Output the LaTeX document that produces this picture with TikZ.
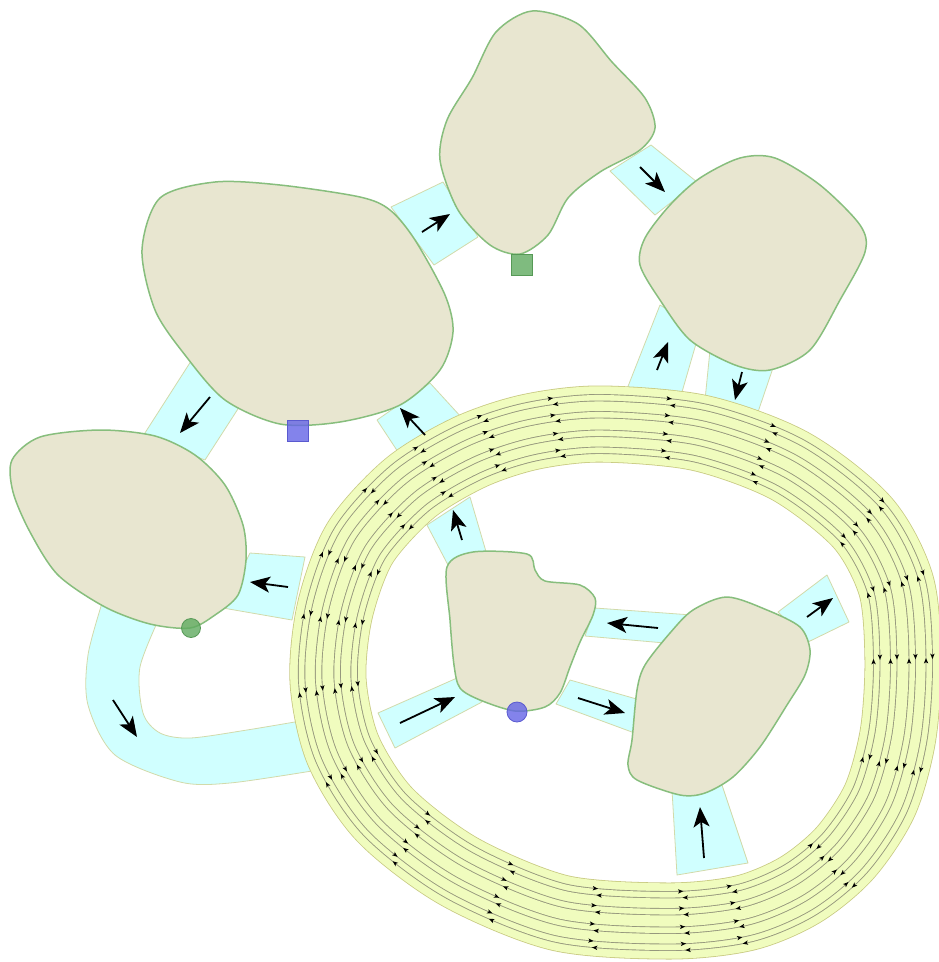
\documentclass[tikz,border=0pt]{standalone}
\usetikzlibrary{arrows.meta,decorations.markings}
\definecolor{blobfill}{RGB}{232,230,208}
\definecolor{blobline}{RGB}{135,190,125}
\definecolor{cyanfill}{RGB}{208,255,255}
\definecolor{cyanline}{RGB}{210,218,170}
\definecolor{ringfill}{RGB}{240,252,190}
\definecolor{ringline}{RGB}{200,202,130}
\definecolor{thread}{RGB}{150,152,125}
\definecolor{mgreen}{RGB}{95,170,95}
\definecolor{mblue}{RGB}{100,100,230}
\newcommand\myringpath{plot[smooth cycle] coordinates {(600,424) (700,433) (790,466) (862,522) (896,585) (903,660) (898,735) (880,800) (845,853) (800,890) (745,913) (670,921) (560,913) (460,872) (385,815) (343,750) (328,680) (335,610) (360,543) (410,488) (470,452) (530,432)}}
\newcommand\rtri[2]{\fill[black,shift={(0pt,#1)},xscale=#2] (2.8pt,0pt) -- (-2.6pt,2.2pt) -- (-1.3pt,0pt) -- (-2.6pt,-2.2pt) -- cycle;}
\newcommand\rgrp{\rtri{29.5pt}{1}\rtri{12.5pt}{1}\rtri{-6pt}{1}\rtri{-23pt}{1}%
  \begin{scope}[xshift=4.5pt]\rtri{23pt}{-1}\rtri{6pt}{-1}\rtri{-12.5pt}{-1}\rtri{-29.5pt}{-1}\end{scope}}
\newcommand\flowarrow[3]{\coordinate (#1t) at #2; \coordinate (#1h) at #3; \draw[flow] (#1t) -- (#1h);}
\begin{document}
\begin{tikzpicture}[x=1pt,y=-1pt,
  blob/.style={fill=blobfill,draw=blobline,line width=1.5pt},
  bridge/.style={fill=cyanfill,draw=cyanline,line width=0.8pt,line join=round},
  flow/.style={-{Stealth[length=20pt,width=16pt,inset=5pt]},line width=1.8pt,black},
  gsq/.style={rectangle,minimum size=21pt,inner sep=0pt,fill=mgreen,fill opacity=0.8,draw=mgreen!90!black,line width=0.8pt},
  bsq/.style={rectangle,minimum size=21pt,inner sep=0pt,fill=mblue,fill opacity=0.8,draw=mblue!90!black,line width=0.8pt},
  gdot/.style={circle,minimum size=19pt,inner sep=0pt,fill=mgreen,fill opacity=0.8,draw=mgreen!90!black,line width=0.8pt},
  bdot/.style={circle,minimum size=20pt,inner sep=0pt,fill=mblue,fill opacity=0.8,draw=mblue!90!black,line width=0.8pt}]
\useasboundingbox (0,0) rectangle (938,962);
% connectors
\draw[bridge] (391,207) -- (443,182) -- (478,237) -- (434,265) -- cycle;
\draw[bridge] (610,171) -- (651,145) -- (697,182) -- (655,215) -- cycle;
\draw[bridge] (710,350) -- (775,362) -- (758,412) -- (705,400) -- cycle;
\draw[bridge] (660,305) -- (700,330) -- (682,392) -- (625,394) -- cycle;
\draw[bridge] (193,358) -- (245,398) -- (205,460) -- (143,436) -- cycle;
\draw[bridge] (377,420) -- (430,383) -- (462,418) -- (400,455) -- cycle;
\draw[bridge] (427,525) -- (470,497) -- (487,555) -- (448,565) -- cycle;
\draw[bridge] (595,608) -- (692,615) -- (665,643) -- (585,636) -- cycle;
\draw[bridge] (570,680) -- (640,700) -- (640,735) -- (556,704) -- cycle;
\draw[bridge] (378,713) -- (457,678) -- (482,702) -- (395,748) -- cycle;
\draw[bridge] (778,612) -- (827,575) -- (849,622) -- (808,642) -- cycle;
\draw[bridge] (672,790) -- (722,785) -- (748,863) -- (677,875) -- cycle;
\draw[bridge] (250,553) -- (305,557) -- (292,620) -- (223,608) -- cycle;
\draw[bridge] plot[smooth] coordinates {(103,600) (88,655) (88,705) (115,755) (180,782) (230,783) (318,770)}
  -- plot[smooth] coordinates {(318,718) (247,730) (190,738) (160,733) (143,713) (140,667) (162,612)} -- cycle;
% ring
\draw[ringline,line width=77pt] \myringpath;
\draw[ringfill,line width=75.4pt] \myringpath;
\draw[thread,line width=59.9pt] \myringpath;
\draw[ringfill,line width=58.1pt] \myringpath;
\draw[thread,line width=46.9pt] \myringpath;
\draw[ringfill,line width=45.1pt] \myringpath;
\draw[thread,line width=25.9pt] \myringpath;
\draw[ringfill,line width=24.1pt] \myringpath;
\draw[thread,line width=12.9pt] \myringpath;
\draw[ringfill,line width=11.1pt] \myringpath;
\path[decorate,decoration={markings,
  mark=at position 0.038 with {\rgrp},
  mark=at position 0.108 with {\rgrp},
  mark=at position 0.149 with {\rgrp},
  mark=at position 0.193 with {\rgrp},
  mark=at position 0.255 with {\rgrp},
  mark=at position 0.324 with {\rgrp},
  mark=at position 0.387 with {\rgrp},
  mark=at position 0.418 with {\rgrp},
  mark=at position 0.470 with {\rgrp},
  mark=at position 0.527 with {\rgrp},
  mark=at position 0.588 with {\rgrp},
  mark=at position 0.642 with {\rgrp},
  mark=at position 0.690 with {\rgrp},
  mark=at position 0.731 with {\rgrp},
  mark=at position 0.765 with {\rgrp},
  mark=at position 0.804 with {\rgrp},
  mark=at position 0.838 with {\rgrp},
  mark=at position 0.876 with {\rgrp},
  mark=at position 0.915 with {\rgrp},
  mark=at position 0.980 with {\rgrp}}] \myringpath;
% arrows
\flowarrow{a1}{(422,232)}{(450,214)}
\flowarrow{a2}{(640,167)}{(665,192)}
\flowarrow{a3}{(742,372)}{(735,400)}
\flowarrow{a4}{(657,370)}{(668,342)}
\flowarrow{a5}{(210,397)}{(180,433)}
\flowarrow{a6}{(425,435)}{(400,408)}
\flowarrow{a7}{(462,540)}{(453,510)}
\flowarrow{a8}{(658,628)}{(607,623)}
\flowarrow{a9}{(578,698)}{(625,713)}
\flowarrow{a10}{(400,723)}{(455,697)}
\flowarrow{a11}{(807,617)}{(833,598)}
\flowarrow{a12}{(704,858)}{(700,807)}
\flowarrow{a13}{(288,587)}{(250,582)}
\flowarrow{a14}{(113,700)}{(137,737)}
% blobs
\draw[blob] plot[smooth cycle] coordinates {(532,11) (578,24) (612,62) (645,98) (655,128) (640,150) (600,172) (568,198) (548,235) (520,254) (490,245) (458,210) (440,160) (447,120) (472,78) (496,32)};
\draw[blob] plot[smooth cycle] coordinates {(700,178) (740,158) (775,158) (820,185) (860,225) (865,252) (840,300) (810,350) (770,370) (735,365) (690,340) (660,300) (640,265) (645,238) (670,205)};
\draw[blob] plot[smooth cycle] coordinates {(142,250) (160,198) (215,182) (280,185) (360,197) (390,210) (415,240) (445,295) (453,332) (440,370) (400,405) (340,422) (280,424) (225,400) (185,355) (155,310)};
\draw[blob] plot[smooth cycle] coordinates {(12,460) (40,437) (100,430) (155,436) (195,455) (225,485) (243,525) (246,560) (238,595) (215,615) (190,628) (150,624) (105,607) (58,575) (30,532) (13,492)};
\draw[blob] plot[smooth cycle] coordinates {(447,567) (473,552) (527,554) (535,570) (545,581) (580,585) (595,598) (593,615) (580,642) (570,667) (560,693) (545,707) (515,711) (480,700) (460,688) (454,665) (450,620)};
\draw[blob] plot[smooth cycle] coordinates {(670,633) (693,610) (727,597) (767,610) (800,627) (810,650) (805,675) (787,705) (760,747) (733,777) (705,793) (680,795) (637,780) (628,765) (632,740) (637,690) (645,665)};
% markers
\node[gsq] (mk1) at (522,265) {};
\node[bsq] (mk2) at (298,431) {};
\node[gdot] (mk3) at (191,628) {};
\node[bdot] (mk4) at (517,712) {};
\end{tikzpicture}
\end{document}
